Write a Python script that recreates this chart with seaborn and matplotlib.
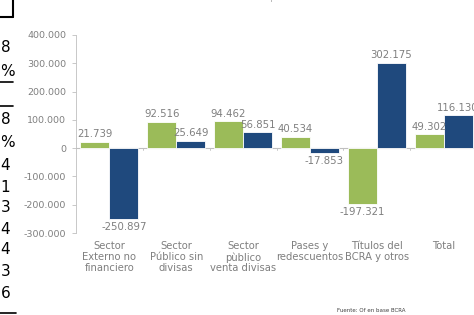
import seaborn as sns
import matplotlib.pyplot as plt
import pandas as pd

categories = ["Sector\nExterno no\nfinanciero", "Sector\nPúblico sin\ndivisas",
              "Sector\npùblico\nventa divisas", "Pases y\nredescuentos",
              "Títulos del\nBCRA y otros", "Total"]
series = ["2016", "2017"]
green_vals = [21739, 92516, 94462, 40534, -197321, 49302]
blue_vals = [-250897, 25649, 56851, -17853, 302175, 116130]
yticks = [-300000, -200000, -100000, 0, 100000, 200000, 300000, 400000]
side_digits = ["8", "%", "8", "%", "4", "1", "3", "4", "4", "3", "6"]
side_rows = [48, 72, 120, 143, 166, 187, 208, 229, 250, 271, 293]

GREEN = "#9BBB59"
BLUE = "#1F497D"
GRAY = "#7F7F7F"


def fmt(v):
    s = f"{abs(v):,}".replace(",", ".")
    return ("-" if v < 0 else "") + s


df = pd.DataFrame({
    "cat": categories * 2,
    "serie": [series[0]] * 6 + [series[1]] * 6,
    "valor": green_vals + blue_vals,
})

sns.set_style("white")
plt.rcParams["font.family"] = ["DejaVu Sans"]

fig = plt.figure(figsize=(4.74, 3.15), dpi=100)
ax = fig.add_axes([76 / 474, 1 - 233 / 315, (477 - 76) / 474, (233 - 35) / 315])

sns.barplot(df, x="cat", y="valor", hue="serie", palette=[GREEN, BLUE],
            saturation=1, width=0.87, gap=0, edgecolor="white", linewidth=0.6,
            legend=False, ax=ax)

ax.set_ylim(-300000, 400000)
ax.set_xlim(-0.5, 5.5)
ax.set_yticks(yticks)
ax.set_yticklabels([fmt(t) for t in yticks], color=GRAY, fontsize=6.8)
ax.set_xlabel("")
ax.set_ylabel("")
ax.set_xticks(range(6))
ax.set_xticklabels(categories, color=GRAY, fontsize=7.2, linespacing=1.1)
ax.tick_params(axis="x", length=0, pad=6)
ax.tick_params(axis="y", length=3, color="#BFBFBF", width=0.6, pad=4, left=True)

for s in ["top", "right", "bottom"]:
    ax.spines[s].set_visible(False)
ax.spines["left"].set_color("#BFBFBF")
ax.spines["left"].set_linewidth(0.6)
ax.axhline(0, color="#BFBFBF", lw=0.8, zorder=0)
for b in [0.5, 1.5, 2.5, 3.5, 4.5]:
    ax.plot([b, b], [0, -6000], color="#BFBFBF", lw=0.6, clip_on=False)

# etiquetas de datos
for container, vals in zip(ax.containers, [green_vals, blue_vals]):
    for bar, v in zip(container, vals):
        x = bar.get_x() + bar.get_width() / 2
        if v >= 0:
            ax.text(x, v + 9000, fmt(v), ha="center", va="bottom",
                    color=GRAY, fontsize=7.3)
        else:
            ax.text(x, v - 9000, fmt(v), ha="center", va="top",
                    color=GRAY, fontsize=7.3)

# restos del documento recortado (titulo y leyenda cortados arriba)
fig.text(230 / 474, 1 - 1.5 / 315, "Miles de millones de $ BCRA", ha="center", va="bottom",
         color="#A6A6A6", fontsize=7, fontweight="bold")
fig.text(395 / 474, 1 - 1.5 / 315, "2016", ha="center", va="bottom", color="#A6A6A6", fontsize=7)
fig.text(440 / 474, 1 - 1.5 / 315, "2017", ha="center", va="bottom", color="#A6A6A6", fontsize=7)
for d, yy in zip(side_digits, side_rows):
    fig.text(0.5 / 474, 1 - yy / 315, d, ha="left", va="center",
             fontsize=11, color="black")
fig.add_artist(plt.Line2D([0, 13 / 474], [1 - 17 / 315, 1 - 17 / 315], color="black", lw=1.5))
fig.add_artist(plt.Line2D([13 / 474, 13 / 474], [1 - 17 / 315, 1.0], color="black", lw=1.5))
fig.add_artist(plt.Line2D([0, 13 / 474], [1 - 82 / 315, 1 - 82 / 315], color="black", lw=1.2))
fig.add_artist(plt.Line2D([0, 13 / 474], [1 - 106 / 315, 1 - 106 / 315], color="black", lw=1.2))
fig.add_artist(plt.Line2D([0, 16 / 474], [1 - 313 / 315, 1 - 313 / 315], color="black", lw=1.2))

fig.text(337 / 474, 1 - 310 / 315, "Fuente: Of en base BCRA", ha="left", va="center",
         color="#404040", fontsize=4)

fig.savefig("out.png", dpi=100)
